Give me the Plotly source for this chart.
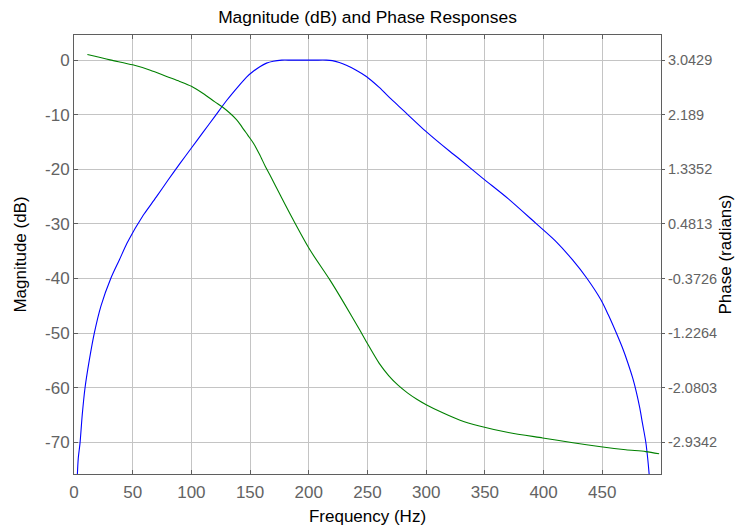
import plotly.graph_objects as go

# Magnitude response (blue)
mag_freq = [2.9, 3.6, 5.2, 7.0, 9.4, 13, 17.3, 23, 31.3, 38.6, 45, 50, 55, 60, 70, 80, 90, 100,
            110, 120, 130, 140, 147, 153, 158.3, 164, 169.6, 177, 185, 195, 205, 215, 220, 226,
            232, 240, 249, 260, 270, 277, 283, 300, 320, 328.3, 348, 370, 393.5, 410, 424.7,
            437, 448.8, 455, 461.6, 467, 472, 476, 479, 482, 484.2, 487, 488.7, 489.9]
mag_db = [-75.8, -73, -70, -65, -60, -55, -50, -45, -40, -36.6, -33.6, -31.6, -29.8, -28.1,
          -25.1, -22.0, -19.0, -16.1, -13.2, -10.3, -7.4, -4.8, -3.1, -2.0, -1.2, -0.55, -0.2,
          0, 0, 0, 0, 0, -0.1, -0.45, -0.95, -1.8, -3.0, -5, -7.1, -8.5, -9.7, -13.1, -16.7,
          -18.1, -21.6, -25.4, -29.9, -33.1, -36.6, -40, -43.9, -46.6, -49.8, -52.6, -55.6,
          -58.3, -60.8, -63.8, -66.5, -69.9, -73, -75.8]

# Phase response (green), radians
ph_freq = [11.4, 30.7, 50, 65, 78.9, 90, 100, 110, 120, 126.5, 138.4, 143, 148, 153, 158,
           163, 166.8, 176, 186.6, 200.8, 217.8, 230, 243.3, 249, 260, 268, 276, 284, 292,
           300, 315, 328.3, 345.3, 370, 399.2, 425, 448.8, 470, 487, 498.4]
ph_rad = [3.131, 3.047, 2.969, 2.885, 2.787, 2.71, 2.633, 2.52, 2.39, 2.309, 2.112, 2.0,
          1.87, 1.74, 1.57, 1.38, 1.250, 0.92, 0.549, 0.080, -0.390, -0.757, -1.175, -1.36,
          -1.70, -1.89, -2.04, -2.16, -2.26, -2.345, -2.48, -2.584, -2.678, -2.78, -2.866,
          -2.94, -3.003, -3.05, -3.079, -3.114]

x_ticks = [0, 50, 100, 150, 200, 250, 300, 350, 400, 450]
mag_ticks = [0, -10, -20, -30, -40, -50, -60, -70]
phase_ticks = ["3.0429", "2.189", "1.3352", "0.4813", "-0.3726", "-1.2264", "-2.0803", "-2.9342"]

mag_range = [-75.8, 4.6]
# linear map from magnitude axis to phase axis, fixed by the tick pairs
p0 = float(phase_ticks[0]); p1 = float(phase_ticks[-1])
d0 = mag_ticks[0]; d1 = mag_ticks[-1]
slope = (p1 - p0) / (d1 - d0)
ph_range = [p0 + slope * (v - d0) for v in mag_range]

font = "Liberation Sans, Arial, sans-serif"
tick_col = "#636363"
grid_col = "#c4c4c4"
axis_col = "#5f5f5f"

fig = go.Figure()
fig.add_trace(go.Scatter(x=mag_freq, y=mag_db, mode="lines",
                         line=dict(color="#0000ff", width=1.1, shape="spline", smoothing=0.8),
                         showlegend=False))
fig.add_trace(go.Scatter(x=ph_freq, y=ph_rad, mode="lines", yaxis="y2",
                         line=dict(color="#008000", width=1.1, shape="spline", smoothing=0.8),
                         showlegend=False))

fig.update_layout(
    width=735, height=526,
    margin=dict(l=74, r=74, t=35, b=52, autoexpand=False),
    paper_bgcolor="white", plot_bgcolor="white",
    font=dict(family=font, size=17, color=tick_col),
    title=dict(text="Magnitude (dB) and Phase Responses", x=0.5, xanchor="center",
               y=1 - 17 / 526, yanchor="middle",
               font=dict(family=font, size=17.4, color="black")),
    xaxis=dict(range=[0, 500], tickvals=x_ticks, ticks="inside", ticklen=4,
               tickcolor=axis_col, showgrid=True, gridcolor=grid_col, gridwidth=1,
               showline=True, linecolor=axis_col, linewidth=1, mirror="ticks",
               zeroline=False, ticklabelstandoff=3, automargin=False,
               title=dict(text="Frequency (Hz)", font=dict(family=font, size=17, color="black"),
                          standoff=8),
               tickfont=dict(size=17, color=tick_col)),
    yaxis=dict(range=mag_range, tickvals=mag_ticks, ticktext=[str(v) for v in mag_ticks],
               ticks="inside", ticklen=4, automargin=False,
               tickcolor=axis_col, showgrid=True, gridcolor=grid_col, gridwidth=1,
               showline=True, linecolor=axis_col, linewidth=1, zeroline=False,
               title=dict(text="Magnitude (dB)", font=dict(family=font, size=17, color="black"),
                          standoff=14),
               tickfont=dict(size=17, color=tick_col)),
    yaxis2=dict(range=ph_range, overlaying="y", side="right", automargin=False,
                tickvals=[float(t) for t in phase_ticks], ticktext=phase_ticks,
                ticks="outside", ticklen=3, tickcolor=axis_col,
                showgrid=False, showline=True, linecolor=axis_col, linewidth=1,
                zeroline=False,
                title=dict(text="Phase (radians)", font=dict(family=font, size=17, color="black"),
                           standoff=6),
                tickfont=dict(size=14.5, color=tick_col)),
)

fig.write_html("out.html")
